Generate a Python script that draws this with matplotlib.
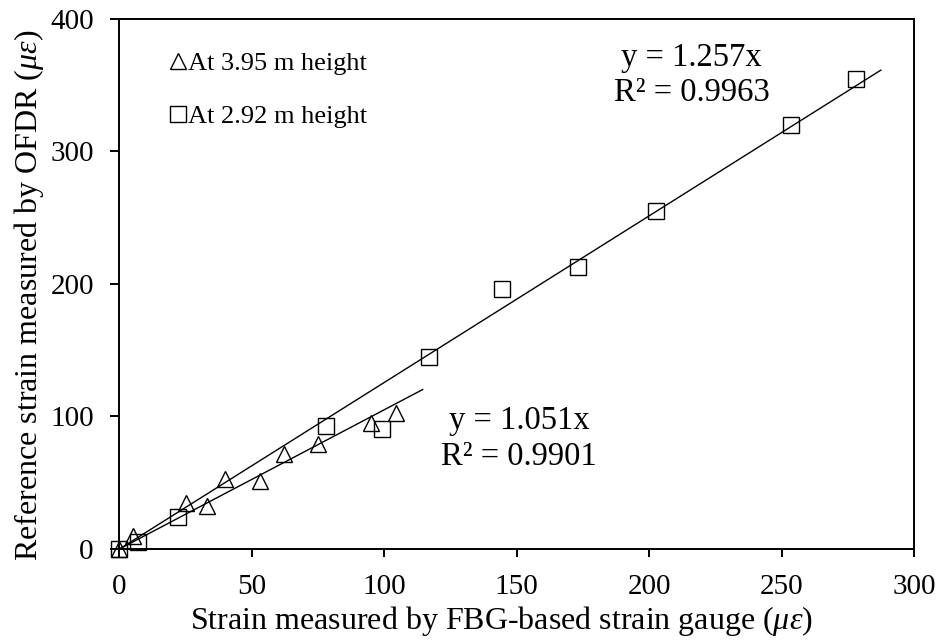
import numpy as np
import matplotlib
matplotlib.use('Agg')
from matplotlib import pyplot as plt

# data
tri_x = [0, 5, 25, 33, 40, 53, 62, 75, 95, 104.5]
tri_y = [0, 9.5, 34.5, 32.5, 52.5, 51, 72, 79, 95, 102.5]

sq_x = [0, 7, 22, 78, 99, 117, 144.5, 173, 202.5, 253.5, 278]
sq_y = [0, 5.5, 24, 92.5, 90.5, 145, 196, 213, 255, 320, 355]

slopes = [1.051, 1.257]
r2 = [0.9901, 0.9963]
fit_xmax = [114.5, 287.5]

labels = ['At 3.95 m height', 'At 2.92 m height']
x_ticks = [0, 50, 100, 150, 200, 250, 300]
y_ticks = [0, 100, 200, 300, 400]

plt.rcParams['font.family'] = ['Liberation Serif', 'DejaVu Serif']
plt.rcParams['mathtext.fontset'] = 'custom'
plt.rcParams['mathtext.rm'] = 'Liberation Serif'
plt.rcParams['mathtext.it'] = 'Liberation Serif:italic'

fig = plt.figure(figsize=(9.43, 6.43), dpi=100)
ax = fig.add_axes([0.1267, 0.1462, 0.8425, 0.8243])

# trend lines through origin
for k, xm in zip(slopes, fit_xmax):
    xx = np.array([0, xm])
    ax.plot(xx, k * xx, color='black', lw=1.0, zorder=2)

tri, = ax.plot(tri_x, tri_y, ls='none', marker='^', ms=12, mfc='none',
               mec='black', mew=1.0, clip_on=False, zorder=3)
sq, = ax.plot(sq_x, sq_y, ls='none', marker='s', ms=12, mfc='none',
              mec='black', mew=1.0, clip_on=False, zorder=3)

ax.set_xlim(0, 300)
ax.set_ylim(0, 400)
ax.set_xticks(x_ticks)
ax.set_yticks(y_ticks)

for s in ax.spines.values():
    s.set_linewidth(1.4)
ax.tick_params(axis='x', direction='out', length=6, width=1.4, pad=12, labelsize=21)
ax.tick_params(axis='y', direction='out', length=6.5, width=1.4, pad=12, labelsize=21)

ax.set_xlabel(r'Strain measured by FBG-based strain gauge ($\mu\varepsilon$)', fontsize=23, labelpad=3)
ax.set_ylabel(r'Reference strain measured by OFDR ($\mu\varepsilon$)', fontsize=23, labelpad=3)
ax.xaxis.label.set_x(0.481)
ax.yaxis.label.set_y(0.478)

# equation labels
ax.text(216, 371, f'y = {slopes[1]}x', fontsize=23.5, ha='center', va='center')
ax.text(216, 344, f'R² = {r2[1]}', fontsize=23.5, ha='center', va='center')
ax.text(151, 97, f'y = {slopes[0]}x', fontsize=23.5, ha='center', va='center')
ax.text(151, 69.5, f'R² = {r2[0]}', fontsize=23.5, ha='center', va='center')

ax.legend([tri, sq], labels, loc='upper left', bbox_to_anchor=(0.05, 0.958),
          frameon=False, fontsize=19, handlelength=0.6, handletextpad=0.1,
          labelspacing=1.1, borderaxespad=0)

fig.savefig('out.png', dpi=100)
